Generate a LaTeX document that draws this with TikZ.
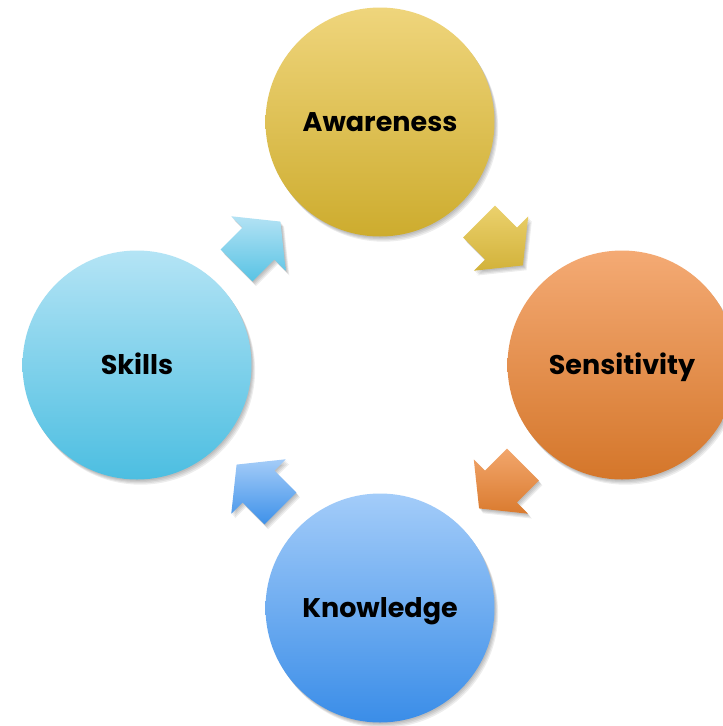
\documentclass[tikz,border=0pt]{standalone}
\usepackage{fontspec}
\setmainfont{Poppins}
\usetikzlibrary{calc}
\definecolor{awtop}{HTML}{EFD57C}\definecolor{awbot}{HTML}{CDAC2E}
\definecolor{setop}{HTML}{F4AA74}\definecolor{sebot}{HTML}{D4762A}
\definecolor{kntop}{HTML}{A3CCF9}\definecolor{knbot}{HTML}{3A8DE8}
\definecolor{sktop}{HTML}{B4E4F5}\definecolor{skbot}{HTML}{4CBEE1}
\definecolor{aatop}{HTML}{EBD16D}\definecolor{aabot}{HTML}{D2B23A}
\definecolor{abtop}{HTML}{B3E2F4}\definecolor{abbot}{HTML}{58C3E4}
\definecolor{actop}{HTML}{F2A66C}\definecolor{acbot}{HTML}{DA7B2F}
\definecolor{adtop}{HTML}{A4CCF8}\definecolor{adbot}{HTML}{3E91E9}
\tikzset{
  bubble/.style={circle, minimum size=229pt, inner sep=0pt,
    font=\fontsize{27}{30}\selectfont\bfseries, text=black,
    text height=19pt, text depth=0pt},
  softshadow/.style={fill=black, opacity=0.07}
}
% #1 centre coordinate, #2 angle, #3 extra offset
\newcommand\arrowpath[3]{%
  ($(#1)+(#3)+(#2:-31)+(#2+90:22.5)$) --
  ($(#1)+(#3)+(#2+90:22.5)$) --
  ($(#1)+(#3)+(#2+90:38.5)$) --
  ($(#1)+(#3)+(#2:31)$) --
  ($(#1)+(#3)+(#2-90:38.5)$) --
  ($(#1)+(#3)+(#2-90:22.5)$) --
  ($(#1)+(#3)+(#2:-31)+(#2-90:22.5)$) -- cycle}
% #1 centre, #2 angle, #3 top colour, #4 bottom colour
\newcommand\blockarrow[4]{%
  \foreach \k in {1,2,3,4}{\fill[softshadow] \arrowpath{#1}{#2}{\k*0.9,\k*1.2};}
  \shade[top color=#3, bottom color=#4] \arrowpath{#1}{#2}{0,0};}
\begin{document}
\begin{tikzpicture}[x=1pt,y=-1pt]
\useasboundingbox (0,0) rectangle (723,726);
\fill[white] (0,0) rectangle (723,726);
% centres
\coordinate (caw) at (380,122);
\coordinate (cse) at (622,365);
\coordinate (ckn) at (380,608);
\coordinate (csk) at (137,365);
% circle shadows
\foreach \c in {caw,cse,ckn,csk}{
  \foreach \k in {1,2,3,4}{\fill[softshadow] ($(\c)+(\k*0.9,\k*1.3)$) circle (114.5);}
}
\node[bubble, top color=awtop, bottom color=awbot] (aw) at (caw) {Awareness};
\node[bubble, top color=setop, bottom color=sebot] (se) at (cse) {Sensitivity};
\node[bubble, top color=kntop, bottom color=knbot] (kn) at (ckn) {Knowledge};
\node[bubble, top color=sktop, bottom color=skbot] (sk) at (csk) {Skills};
% arrow centres between the circles
\coordinate (m1) at ($(aw.center)!0.5!(se.center)$);
\coordinate (m2) at ($(se.center)!0.5!(kn.center)$);
\coordinate (m3) at ($(kn.center)!0.5!(sk.center)$);
\coordinate (m4) at ($(sk.center)!0.5!(aw.center)$);
\blockarrow{m1}{45}{aatop}{aabot}
\blockarrow{m2}{135}{actop}{acbot}
\blockarrow{m3}{225}{adtop}{adbot}
\blockarrow{m4}{-45}{abtop}{abbot}
\end{tikzpicture}
\end{document}
